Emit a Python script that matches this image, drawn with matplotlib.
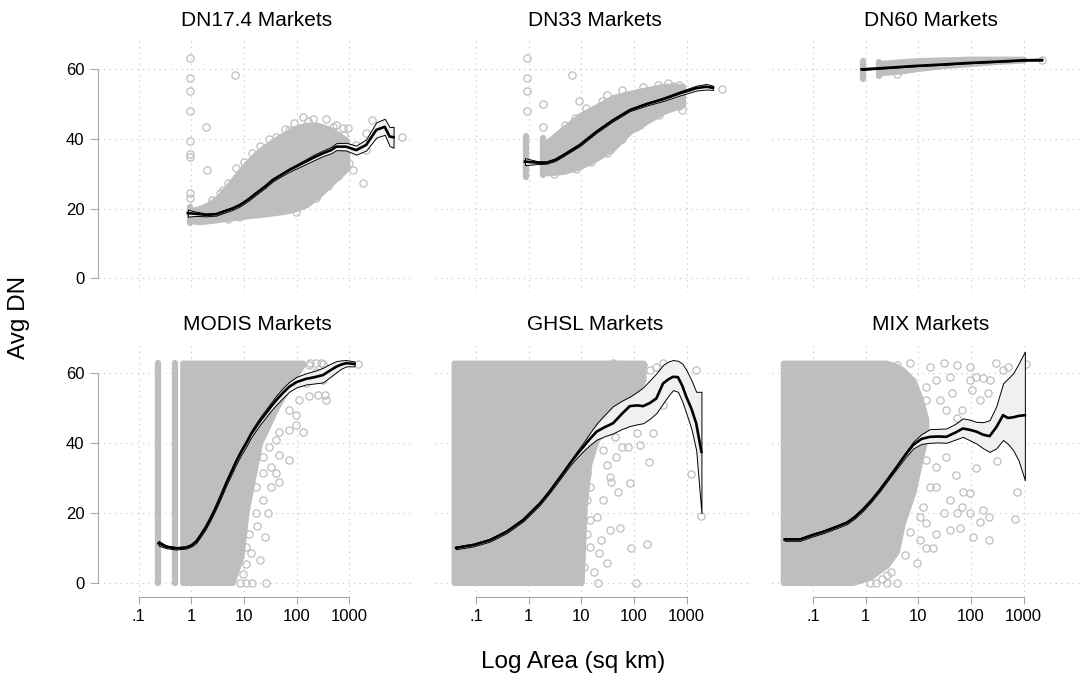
import matplotlib
matplotlib.use("Agg")
import matplotlib.pyplot as plt
from matplotlib.ticker import NullLocator

plt.rcParams["font.family"] = ["Liberation Sans", "DejaVu Sans"]

GREY = "#bebebe"
BAND = "#f0f0f0"
GRID = "#c4c4c4"
AXIS = "#a8a8a8"

TITLES = ["DN17.4 Markets", "DN33 Markets", "DN60 Markets",
          "MODIS Markets", "GHSL Markets", "MIX Markets"]
X_TICKS = [0.1, 1, 10, 100, 1000]
X_TICK_LABELS = [".1", "1", "10", "100", "1000"]
Y_TICKS = [0, 20, 40, 60]

# ---- DN17.4 ----
dn17_cloud_x = [1.15, 1.5, 2, 3, 4, 6, 8, 12, 17, 25, 35, 50, 75, 100, 150, 250, 400, 600, 900]
dn17_cloud_lo = [16.3, 16.2, 16.4, 16.7, 17.0, 17.3, 17.6, 17.9, 18.1, 18.4, 18.7, 19.0, 19.5, 20.0, 21.0, 23.5, 26.5, 29.0, 31.5]
dn17_cloud_hi = [19.8, 20.2, 21.0, 22.8, 24.8, 28.0, 30.5, 33.5, 35.8, 37.8, 39.3, 40.8, 42.3, 43.3, 44.0, 44.0, 43.0, 41.5, 39.5]
dn17_stack_x = [0.95]
dn17_stack_lo = [15.8]
dn17_stack_hi = [20.5]
dn17_pts_x = [0.96, 0.96, 0.96, 0.96, 0.96, 0.96, 0.96, 0.96, 0.96, 1.9, 6.7, 1.97, 1800, 10000,
              131, 363, 163, 487, 755, 940, 73, 41, 23, 7.1, 4, 3,
              270, 98, 152, 235, 1170, 1350, 700, 2090, 2090, 2750,
              2.5, 3.5, 5, 10, 14, 20, 30, 60, 90, 200, 550, 800, 400, 600, 1000, 1100, 5, 8]
dn17_pts_y = [63.2, 57.6, 53.9, 48.0, 39.5, 35.7, 34.9, 24.4, 23.0, 43.5, 58.4, 31.0, 27.5, 40.5,
              46.2, 45.7, 45.3, 43.5, 43.1, 43.1, 42.6, 40.7, 36.8, 31.6, 25.4, 21.5,
              24.9, 19.1, 23.4, 23.0, 31.1, 38.3, 32.0, 41.6, 36.8, 45.5,
              22.5, 24.5, 27.3, 33.5, 36.0, 38.0, 40.0, 43.0, 44.5, 45.8, 44.0, 41.0, 26.5, 29.5, 33.0, 37.0, 17.0, 17.5]
dn17_fit_x = [0.86, 1.24, 1.93, 3, 4, 6, 8.3, 12, 17, 25, 35, 51, 73, 105, 150, 220, 317, 450, 562,
              870, 1350, 2090, 3240, 4700, 5800, 6900]
dn17_fit_y = [18.7, 18.5, 18.2, 18.4, 19.1, 20.0, 21.0, 22.6, 24.4, 26.3, 28.2, 29.7, 31.1, 32.3,
              33.5, 34.8, 35.9, 36.8, 37.8, 37.8, 36.8, 38.3, 42.6, 43.5, 40.7, 40.5]
dn17_ci_lo = [17.7, 17.9, 17.8, 18.0, 18.7, 19.6, 20.6, 22.2, 24.0, 25.9, 27.8, 29.3, 30.6, 31.7,
              32.8, 34.0, 35.1, 35.9, 36.8, 36.7, 35.5, 36.7, 40.4, 41.2, 38.0, 37.5]
dn17_ci_hi = [19.7, 19.1, 18.6, 18.8, 19.5, 20.4, 21.4, 23.0, 24.8, 26.7, 28.6, 30.1, 31.6, 32.9,
              34.2, 35.6, 36.7, 37.7, 38.8, 38.9, 38.1, 39.9, 44.8, 45.8, 43.4, 43.5]

# ---- DN33 ----
dn33_cloud_x = [2.19, 4.6, 9.4, 19.4, 40, 83, 172, 357, 850]
dn33_cloud_lo = [30.2, 30.6, 32.0, 34.4, 37.3, 42.1, 45.0, 47.8, 49.8]
dn33_cloud_hi = [39.0, 43.0, 46.8, 49.3, 52.0, 53.2, 54.2, 55.2, 55.2]
dn33_stack_x = [0.9, 1.9]
dn33_stack_lo = [29.2, 29.6]
dn33_stack_hi = [40.8, 40.2]
dn33_pts_x = [0.95, 0.95, 0.95, 0.95, 1.9, 1.9, 6.7, 8.9, 7.7, 4750, 810, 25, 19.4, 35, 110, 310, 550, 290,
              3, 5, 12, 30, 60, 150, 450, 700, 3, 8, 15, 30, 60, 130, 300, 700]
dn33_pts_y = [63.2, 57.6, 53.9, 48.0, 50.0, 43.5, 58.4, 50.9, 45.9, 54.3, 48.3, 51.0, 35.4, 36.8, 43.5, 48.3, 55.2, 55.5,
              38.0, 44.0, 49.0, 52.5, 54.0, 55.0, 56.0, 55.5, 30.0, 31.5, 33.5, 36.0, 40.0, 44.0, 47.0, 49.5]
dn33_fit_x = [0.85, 1.5, 2.19, 3.2, 4.6, 9.4, 19.4, 40, 83, 172, 357, 740, 1520, 2350, 3150]
dn33_fit_y = [33.5, 33.2, 33.2, 34.0, 35.4, 38.3, 42.1, 45.4, 48.3, 50.0, 51.4, 53.1, 54.6, 55.0, 54.7]
dn33_ci_lo = [32.5, 32.8, 32.9, 33.7, 35.1, 38.0, 41.8, 45.1, 48.0, 49.6, 50.9, 52.5, 53.9, 54.2, 54.1]
dn33_ci_hi = [34.5, 33.6, 33.5, 34.3, 35.7, 38.6, 42.4, 45.7, 48.6, 50.4, 51.9, 53.7, 55.3, 55.8, 55.3]

# ---- DN60 ----
dn60_cloud_x = [2.0, 5, 10, 30, 100, 300, 1000]
dn60_cloud_lo = [59.0, 59.5, 60.2, 61.0, 61.6, 62.2, 62.6]
dn60_cloud_hi = [61.8, 62.3, 62.6, 62.8, 63.0, 63.0, 63.0]
dn60_stack_x = [0.88, 1.8]
dn60_stack_lo = [57.3, 58.0]
dn60_stack_hi = [62.5, 62.2]
dn60_pts_x = [3.9, 2230]
dn60_pts_y = [58.7, 62.7]
dn60_fit_x = [0.84, 3, 9.2, 30, 81, 300, 975, 2230]
dn60_fit_y = [60.0, 60.5, 61.0, 61.4, 61.8, 62.2, 62.6, 62.7]
dn60_ci_lo = [59.8, 60.4, 60.9, 61.3, 61.7, 62.1, 62.5, 62.5]
dn60_ci_hi = [60.2, 60.6, 61.1, 61.5, 61.9, 62.3, 62.7, 62.9]

# ---- MODIS ----
modis_cloud_x = [0.68, 6, 9, 11, 14.8, 20, 41, 100, 131]
modis_cloud_lo = [0, 0, 8, 20, 30, 40, 50, 60, 62.5]
modis_cloud_hi = [63, 63, 63, 63, 63, 63, 63, 63, 63]
modis_stack_x = [0.232, 0.50]
modis_stack_lo = [0, 0]
modis_stack_hi = [63, 63]
modis_pts_x = [338, 253, 174, 131, 98, 73, 47, 47, 71, 33, 25, 28, 17, 26, 11, 14.5, 8.3, 1450, 47, 41,
               30, 22.6, 33, 22.6, 17.4, 13.9, 11, 9.6, 316, 174, 98, 234, 316, 151, 360, 112, 73, 98,
               180, 230, 290, 12.7, 17, 22.6, 41, 20, 11]
modis_pts_y = [53.8, 53.8, 53.5, 43.3, 45.2, 43.8, 36.6, 28.9, 35.2, 33.2, 13.2, 19.9, 19.9, 0, 0, 0, 0, 62.7, 43.3, 40.9,
               39.0, 36.1, 27.5, 23.8, 16.2, 8.4, 5.5, 2.6, 62.8, 62.4, 61.9, 60.5, 58.1, 57.1, 52.3, 52.3, 49.4, 48.0,
               63, 63, 63, 14.1, 27.5, 31.3, 31.3, 6.5, 10.3]
modis_fit_x = [0.24, 0.335, 0.52, 0.80, 1.0, 1.24, 1.5, 1.9, 2.4, 2.97, 3.7, 4.6, 5.8, 7.1, 8.8, 11, 13.5,
               17, 21, 26, 32, 41, 55, 73, 100, 150, 220, 316, 420, 565, 700, 875, 1250]
modis_fit_y = [11.3, 10.3, 9.85, 10.1, 10.7, 11.8, 13.6, 16.0, 18.9, 21.8, 25.1, 28.5, 31.8, 34.7, 37.4, 39.9, 42.4,
               44.7, 46.7, 48.5, 50.3, 52.3, 54.4, 56.2, 57.5, 58.4, 58.9, 59.5, 60.7, 61.9, 62.5, 62.9, 62.7]
modis_ci_lo = [10.6, 9.9, 9.5, 9.8, 10.35, 11.4, 13.15, 15.5, 18.35, 21.2, 24.45, 27.8, 31.05, 33.9, 36.55, 39.0, 41.45,
               43.7, 45.65, 47.4, 49.15, 51.0, 53.0, 54.8, 56.0, 56.8, 57.1, 57.4, 58.8, 60.3, 61.3, 62.0, 62.0]
modis_ci_hi = [12.0, 10.7, 10.2, 10.4, 11.05, 12.2, 14.05, 16.5, 19.45, 22.4, 25.75, 29.2, 32.55, 35.5, 38.25, 40.8, 43.35,
               45.7, 47.75, 49.6, 51.45, 53.6, 55.8, 57.6, 59.0, 60.0, 60.7, 61.6, 62.6, 63.5, 63.7, 63.8, 63.4]

# ---- GHSL ----
ghsl_cloud_x = [0.038, 10, 11.5, 14, 19.5, 40, 83, 150]
ghsl_cloud_lo = [0, 0, 22, 34, 41, 46, 52, 58]
ghsl_cloud_hi = [63, 63, 63, 63, 63, 63, 63, 63]
ghsl_stack_x = []
ghsl_stack_lo = []
ghsl_stack_hi = []
ghsl_pts_x = [1510, 355, 224, 190, 129, 83, 54, 89, 174, 107, 1230, 1900, 50, 35, 30, 26, 35, 22, 21, 17,
              58, 43, 77, 46, 37, 24, 30, 14.4, 14.4, 12.6, 355, 149, 200, 112, 66, 40,
              12.6, 14.4, 19.5, 12.6, 26, 11, 112, 355, 265]
ghsl_pts_y = [60.9, 50.9, 42.8, 34.7, 39.5, 28.5, 15.6, 9.9, 11.0, 0, 31.1, 19.2, 26.1, 30.4, 33.7, 23.7, 15.1, 8.4, 0, 3.2,
              39.0, 41.8, 39.0, 36.1, 28.9, 12.2, 5.6, 18.0, 27.5, 23.7, 63, 62.4, 60.9, 58.9, 61.9, 63,
              14.1, 10.3, 18.9, 31.3, 38.0, 4.6, 42.8, 59.0, 61.9]
ghsl_fit_x = [0.042, 0.089, 0.184, 0.38, 0.79, 1.63, 2.4, 3.4, 4.6, 6.1, 8.2, 11, 14.5, 19.5, 28, 40, 58, 83,
              115, 149, 200, 265, 355, 450, 550, 680, 820, 980, 1230, 1510, 1900]
ghsl_fit_y = [10.0, 10.8, 12.2, 14.6, 18.0, 22.7, 25.8, 28.9, 31.6, 34.2, 36.7, 39.0, 41.2, 43.3, 44.6, 45.7, 48.3, 50.6,
              50.8, 50.6, 51.5, 52.8, 57.1, 58.3, 59.0, 58.9, 56.5, 53.3, 49.8, 45.7, 37.5]
ghsl_ci_lo = [9.6, 10.4, 11.8, 14.2, 17.6, 22.3, 25.4, 28.4, 31.1, 33.6, 35.8, 37.8, 39.5, 41.0, 42.0, 42.8, 44.0, 44.9,
              45.4, 45.7, 47.0, 48.6, 51.4, 53.6, 55.2, 54.7, 52.0, 48.6, 44.0, 38.0, 19.9]
ghsl_ci_hi = [10.4, 11.2, 12.6, 15.0, 18.4, 23.1, 26.2, 29.4, 32.1, 34.8, 37.6, 40.2, 42.9, 45.6, 48.2, 50.6, 52.1, 53.3,
              54.7, 56.0, 58.0, 60.0, 62.4, 63.4, 63.8, 63.6, 62.8, 61.0, 58.0, 54.7, 54.7]

# ---- MIX ----
mix_cloud_x = [0.027, 0.57, 1.2, 2.5, 3.9, 5, 8, 10.8, 14]
mix_cloud_lo = [0, 0, 1.5, 5, 9, 17, 26, 35, 42]
mix_cloud_hi = [63, 63, 63, 63, 62, 61, 58, 53, 47]
mix_stack_x = []
mix_stack_lo = []
mix_stack_hi = []
mix_pts_x = [316, 730, 680, 220, 220, 145, 110, 170, 70, 95, 62, 40, 30, 66, 22, 52, 126, 405, 500, 300,
             225, 210, 145, 95, 126, 66, 1120, 350, 10.7, 14.2, 19, 9.4, 2.5, 3.9, 1.2, 0.89, 2.5, 30, 16.5, 6.9,
             3.9, 40, 14.2, 25.6, 10.7, 34, 16.5, 12.3,
             53, 95, 170, 102, 43, 22, 14.2, 34, 53, 14.2, 22, 40, 14.2, 22, 53, 95, 10.7,
             1.6, 2.0, 3.0, 5.5, 7.0]
mix_pts_y = [34.9, 26.1, 18.2, 12.2, 18.9, 17.5, 13.2, 20.8, 26.1, 25.6, 15.6, 15.1, 19.9, 21.8, 33.2, 30.9, 32.8, 60.9, 61.9, 62.9,
             58.1, 54.3, 52.3, 58.1, 59.0, 49.5, 62.7, 43.8, 12.2, 9.9, 9.9, 5.6, 0, 0, 0, 1.7, 2.2, 63, 61.9, 63,
             62.4, 59.0, 56.2, 52.3, 49.5, 36.1, 27.5, 21.8,
             62.4, 61.9, 58.6, 55.2, 54.3, 58.1, 52.3, 49.5, 47.1, 35.2, 27.5, 23.8, 17.0, 14.1, 19.9, 19.9, 18.9,
             0, 1.2, 3.0, 8.0, 14.5]
mix_fit_x = [0.029, 0.057, 0.10, 0.15, 0.21, 0.3, 0.44, 0.62, 0.89, 1.3, 1.86, 2.7, 3.9, 5.6, 8, 11.5, 16.5,
             24, 34, 50, 70, 95, 126, 170, 225, 300, 405, 500, 630, 800, 1050]
mix_fit_y = [12.4, 12.4, 13.7, 14.5, 15.3, 16.2, 17.2, 18.8, 21.0, 23.7, 26.6, 29.9, 33.2, 36.5, 39.5, 41.2, 41.8,
             41.9, 41.8, 43.0, 44.2, 43.8, 43.3, 42.4, 42.0, 44.5, 48.0, 47.2, 47.4, 47.8, 48.0]
mix_ci_lo = [12.0, 12.0, 13.3, 14.1, 14.9, 15.8, 16.8, 18.4, 20.6, 23.3, 26.2, 29.5, 32.7, 35.8, 38.5, 39.8, 40.1,
             40.2, 40.1, 41.0, 41.8, 40.8, 39.9, 38.5, 37.5, 38.5, 40.9, 39.8, 38.0, 35.0, 29.4]
mix_ci_hi = [12.8, 12.8, 14.1, 14.9, 15.7, 16.6, 17.6, 19.2, 21.4, 24.1, 27.0, 30.3, 33.7, 37.2, 40.4, 42.6, 44.0,
             44.1, 44.2, 45.5, 47.1, 46.7, 46.1, 46.0, 46.6, 50.5, 57.1, 58.5, 60.0, 62.8, 66.2]


def panel(cx, clo, chi, sx, slo, shi, px, py, fx, fy, lo, hi):
    return dict(cloud=(cx, clo, chi), stack=(sx, slo, shi), pts=(px, py), fit=(fx, fy, lo, hi))


PANELS = [
    panel(dn17_cloud_x, dn17_cloud_lo, dn17_cloud_hi, dn17_stack_x, dn17_stack_lo, dn17_stack_hi,
          dn17_pts_x, dn17_pts_y, dn17_fit_x, dn17_fit_y, dn17_ci_lo, dn17_ci_hi),
    panel(dn33_cloud_x, dn33_cloud_lo, dn33_cloud_hi, dn33_stack_x, dn33_stack_lo, dn33_stack_hi,
          dn33_pts_x, dn33_pts_y, dn33_fit_x, dn33_fit_y, dn33_ci_lo, dn33_ci_hi),
    panel(dn60_cloud_x, dn60_cloud_lo, dn60_cloud_hi, dn60_stack_x, dn60_stack_lo, dn60_stack_hi,
          dn60_pts_x, dn60_pts_y, dn60_fit_x, dn60_fit_y, dn60_ci_lo, dn60_ci_hi),
    panel(modis_cloud_x, modis_cloud_lo, modis_cloud_hi, modis_stack_x, modis_stack_lo, modis_stack_hi,
          modis_pts_x, modis_pts_y, modis_fit_x, modis_fit_y, modis_ci_lo, modis_ci_hi),
    panel(ghsl_cloud_x, ghsl_cloud_lo, ghsl_cloud_hi, ghsl_stack_x, ghsl_stack_lo, ghsl_stack_hi,
          ghsl_pts_x, ghsl_pts_y, ghsl_fit_x, ghsl_fit_y, ghsl_ci_lo, ghsl_ci_hi),
    panel(mix_cloud_x, mix_cloud_lo, mix_cloud_hi, mix_stack_x, mix_stack_lo, mix_stack_hi,
          mix_pts_x, mix_pts_y, mix_fit_x, mix_fit_y, mix_ci_lo, mix_ci_hi),
]

# layout in pixels of the 1081x681 canvas
W, H = 1081, 681
COL_LEFT = [98, 435.4, 772.4]
AX_W = 313
ROW_TOP = [37.3, 341.2]
ROW_BOTTOM = [292.2, 596.7]
TITLE_X = [257, 595, 931]
TITLE_Y = [26, 330]


def draw_panel(ax, p):
    sx, slo, shi = p["stack"]
    for x, a, b in zip(sx, slo, shi):
        ax.plot([x, x], [a, b], color=GREY, lw=4.5, solid_capstyle="round", zorder=2)
    cx, clo, chi = p["cloud"]
    ax.fill_between(cx, clo, chi, facecolor=GREY, edgecolor=GREY, lw=4, joinstyle="round", zorder=2)
    px, py = p["pts"]
    ax.plot(px, py, "o", mfc="none", mec=GREY, ms=5.2, mew=0.9, zorder=2)
    fx, fy, lo, hi = p["fit"]
    ax.fill_between(fx, lo, hi, facecolor=BAND, edgecolor="black", lw=0.7, zorder=3)
    ax.plot(fx, fy, color="black", lw=1.9, zorder=5)


fig = plt.figure(figsize=(W / 100, H / 100), dpi=100)

for i, p in enumerate(PANELS):
    r, c = divmod(i, 3)
    top, bottom = ROW_TOP[r], ROW_BOTTOM[r]
    ax = fig.add_axes([COL_LEFT[c] / W, 1 - bottom / H, AX_W / W, (bottom - top) / H])
    ax.set_xscale("log")
    ax.set_xlim(10 ** -1.77, 10 ** 4.17)
    ax.set_ylim(-4, 69.2)
    ax.set_xticks(X_TICKS)
    ax.set_xticklabels(X_TICK_LABELS)
    ax.xaxis.set_minor_locator(NullLocator())
    ax.set_yticks(Y_TICKS)
    ax.grid(True, color=GRID, linestyle=(0, (1, 4)), lw=0.8, zorder=0)
    ax.set_axisbelow(True)
    for s in ["top", "right", "left", "bottom"]:
        ax.spines[s].set_visible(False)
    if c == 0:
        ax.spines["left"].set_visible(True)
        ax.spines["left"].set_bounds(0, 60)
        ax.spines["left"].set_color(AXIS)
        ax.tick_params(axis="y", length=5.8, color=AXIS, labelsize=12, pad=4)
    else:
        ax.tick_params(axis="y", left=False, labelleft=False)
    if r == 1:
        ax.spines["bottom"].set_visible(True)
        ax.spines["bottom"].set_bounds(0.1, 1000)
        ax.spines["bottom"].set_color(AXIS)
        ax.tick_params(axis="x", length=4.8, color=AXIS, labelsize=12, pad=4)
    else:
        ax.tick_params(axis="x", bottom=False, labelbottom=False)
    draw_panel(ax, p)
    fig.text(TITLE_X[c] / W, 1 - TITLE_Y[r] / H, TITLES[i], ha="center", va="baseline", fontsize=15)

fig.text(19 / W, 1 - 317.5 / H, "Avg DN", rotation=90, ha="center", va="center", fontsize=17.5)
fig.text(573 / W, 1 - 668 / H, "Log Area (sq km)", ha="center", va="baseline", fontsize=17.5)

fig.savefig("out.png", dpi=100)
